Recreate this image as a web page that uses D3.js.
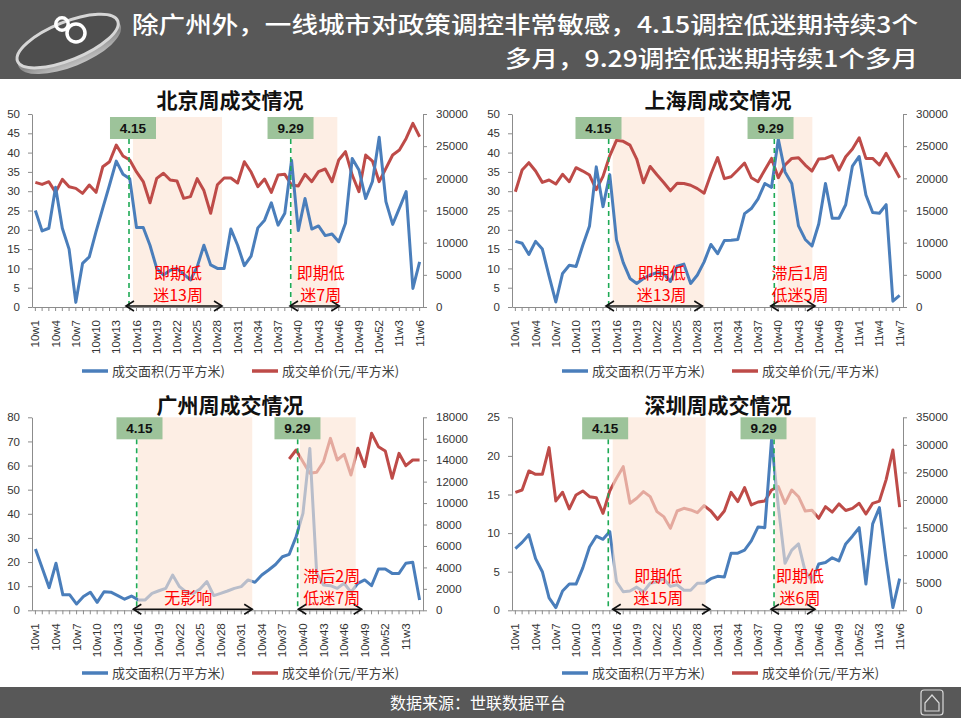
<!DOCTYPE html>
<html>
<head>
<meta charset="utf-8">
<script src="https://d3js.org/d3.v7.min.js"></script>
<style>
  body { margin: 0; background: #fff; }
  svg { display: block; }
</style>
</head>
<body>
<div id="chart"></div>
<script>
// ---- categories (weeks) ----
var weeks2010 = ["10w1","10w2","10w3","10w4","10w5","10w6","10w7","10w8","10w9","10w10",
  "10w11","10w12","10w13","10w14","10w15","10w16","10w17","10w18","10w19","10w20",
  "10w21","10w22","10w23","10w24","10w25","10w26","10w27","10w28","10w29","10w30",
  "10w31","10w32","10w33","10w34","10w35","10w36","10w37","10w38","10w39","10w40",
  "10w41","10w42","10w43","10w44","10w45","10w46","10w47","10w48","10w49","10w50",
  "10w51","10w52"];
var bjWeeks = weeks2010.concat(["11w1","11w2","11w3","11w4","11w5","11w6"]);
var shWeeks = weeks2010.slice(0, 51).concat(["11w1","11w2","11w3","11w4","11w5","11w6","11w7"]);
var gzWeeks = weeks2010.concat(["11w1","11w2","11w3","11w4","11w5"]);
var szWeeks = bjWeeks;

// ---- series values: 成交面积 (万平方米) and 成交单价 (元/平方米) ----
var bjArea = [25,19.7,20.4,31,20.4,15,1.2,11.3,13,19.5,25.6,31.6,37.8,34.4,33.2,20.6,20.6,16,10,8.3,
  9.5,10,8.5,7,10.4,16,10.9,10,10,20.2,16,10.7,13.2,20.5,22.5,27,21.2,24.3,38,19.8,
  28.1,20.2,21,18.5,18.9,16.9,21.7,38.5,35.5,28.1,32.5,44,27.3,21.4,25.6,29.9,4.8,11.7];
var bjPrice = [19370,19060,19480,17820,19840,18700,18440,17660,18960,17820,21800,22580,25170,23470,22840,21000,19500,16200,20000,20800,
  19740,19600,16890,17150,19950,18100,14560,19000,20050,20050,19270,22580,20980,18700,19890,17820,20510,20620,18960,18800,
  20620,19480,21030,21450,19480,22840,24140,20510,17920,23620,22690,19480,21550,23620,24400,26210,28540,26470];

var shArea = [17,16.5,13.6,17,15,8,1.3,8.7,10.8,10.5,16,21,36.3,26,34.3,17.4,11.5,7.4,6.1,7.4,
  8.3,8.9,8.7,6.6,10.6,11.1,6.1,8.3,11.7,16.2,13.8,17.2,17.3,17.5,24.2,25.5,28,32,31,43.5,
  35,32,21,17.5,15.8,21.5,32,23,23,26.5,36.5,39,29,24.5,24.3,26.5,1.5,3];
var shPrice = [17920,21290,22430,21130,19370,19740,19110,20620,19480,21650,21130,20510,18250,20300,23500,25900,25750,25170,23000,19300,
  21850,20560,19350,18060,19220,19200,18930,18400,17700,20640,23230,19950,20250,21290,22380,20100,19480,21290,23100,20100,
  22070,23100,23210,22070,21130,23000,23100,23520,21290,23360,24550,26310,23100,23100,22070,23880,22000,20100];

var gzArea = [25.4,17.4,9.4,19.5,6.4,6.4,2.6,5.7,7.5,3.3,7.7,7.5,6.1,4.6,5.9,4.3,4.3,7,8.1,9.1,
  14.6,9.8,7.5,7,8.8,11.9,6.1,7,8,9.1,9.8,12.6,11.6,14.6,16.7,19,22.2,23.2,30.5,40.2,
  67.1,15.3,10.5,10.2,9.1,11.2,7.5,11.2,12.6,10.2,17.1,17.1,15.3,15.3,19.5,19.9,4.3];
var gzPrice = [null,null,null,null,null,null,null,null,null,null,null,null,null,null,null,null,null,null,null,null,
  null,null,null,null,null,null,null,null,null,null,null,null,null,null,null,null,null,14110,14950,13860,
  12780,12870,13860,16040,14020,14550,12620,15110,13400,16510,15260,14860,12310,14640,13490,14020,14020];

var szArea = [8,8.8,9.8,6.7,5,1.6,0.35,2.5,3.4,3.4,5.5,8.2,9.6,9.2,10.2,3.7,2.4,2.5,3,2.4,
  3.5,3.7,4.1,3.1,3.3,2.6,2.6,3.5,3.5,4.1,4.4,4.3,7.4,7.4,7.8,9,10.8,10.7,22.1,13.5,
  6.1,7.8,8.6,5,3.9,6,6.2,6.8,6.4,8.6,9.6,10.7,3.4,11.2,13.3,6.5,0.35,4.1];
var szPrice = [21400,21820,25270,24660,24660,29500,19830,21400,18380,20920,21640,20610,20430,17590,21640,23940,26050,19400,20310,21520,
  20610,17890,16990,14870,18010,18500,18200,17710,18980,18010,16500,18010,21400,19710,22250,19100,19640,19820,21820,22420,
  19400,21810,20600,18000,18150,16680,18790,17800,19300,18100,18490,19400,17450,19400,19810,23700,29070,18700];

// ---- axis tick labels ----
var areaTicks50 = [0,5,10,15,20,25,30,35,40,45,50];
var priceTicks30k = [0,5000,10000,15000,20000,25000,30000];
var gzAreaTicks = [0,10,20,30,40,50,60,70,80];
var gzPriceTicks = [0,2000,4000,6000,8000,10000,12000,14000,16000,18000];
var szAreaTicks = [0,5,10,15,20,25];
var szPriceTicks = [0,5000,10000,15000,20000,25000,30000,35000];

// ---- texts ----
var headline = ["除广州外，一线城市对政策调控非常敏感，4.15调控低迷期持续3个", "多月，9.29调控低迷期持续1个多月"];
var legendNames = ["成交面积(万平方米)", "成交单价(元/平方米)"];
var sourceText = "数据来源：世联数据平台";

var blue = "#4a7ebb", red = "#be4b48";
var numFont = "'Liberation Sans', Arial, sans-serif";
var cjkFont = "'Noto Sans CJK SC', 'Noto Sans', sans-serif";

// panel layout; annotation positions are in category-index units
var panels = [
  {title: "北京周成交情况", cats: bjWeeks, area: bjArea, price: bjPrice, aTicks: areaTicks50, pTicks: priceTicks30k,
   x0: 32, x1: 423, y0: 114, y1: 307, boxTop: 117, over: false, titleX: 230, titleY: 100, legendY: 371,
   marks: [{label: "4.15", box: 14.48, line: 13.89, shade: [14.48, 27.69], arrow: [13.44, 27.69], textAt: 21.16, text: ["即期低", "迷13周"]},
           {label: "9.29", box: 37.85, line: 37.88, shade: [38.03, 44.79], arrow: [37.77, 45.09], textAt: 42.33, text: ["即期低", "迷7周"]}]},
  {title: "上海周成交情况", cats: shWeeks, area: shArea, price: shPrice, aTicks: areaTicks50, pTicks: priceTicks30k,
   x0: 512, x1: 903, y0: 114, y1: 307, boxTop: 117, over: false, titleX: 718, titleY: 100, legendY: 371,
   marks: [{label: "4.15", box: 12.33, line: 13.84, shade: [14.44, 28.03], arrow: [13.44, 27.73], textAt: 21.71, text: ["即期低", "迷13周"]},
           {label: "9.29", box: 37.85, line: 38.41, shade: [38.92, 44.05], arrow: [37.88, 44.45], textAt: 42.22, text: ["滞后1周", "低迷5周"]}]},
  {title: "广州周成交情况", cats: gzWeeks, area: gzArea, price: gzPrice, aTicks: gzAreaTicks, pTicks: gzPriceTicks,
   x0: 32, x1: 423, y0: 417.3, y1: 610.3, boxTop: 417.3, over: true, titleX: 230, titleY: 405, legendY: 673,
   marks: [{label: "4.15", box: 15.17, line: 14.76, shade: [14.95, 31.61], arrow: [14.27, 31.61], textAt: 22.29, text: ["无影响"]},
           {label: "9.29", box: 38.2, line: 38.23, shade: [38.57, 46.69], arrow: [38.32, 47.56], textAt: 43.19, text: ["滞后2周", "低迷7周"]}]},
  {title: "深圳周成交情况", cats: szWeeks, area: szArea, price: szPrice, aTicks: szAreaTicks, pTicks: szPriceTicks,
   x0: 512, x1: 903, y0: 417.3, y1: 610.3, boxTop: 417.3, over: true, titleX: 718, titleY: 405, legendY: 673,
   marks: [{label: "4.15", box: 13.32, line: 13.78, shade: [14.44, 28.23], arrow: [14.44, 28.87], textAt: 21.2, text: ["即期低", "迷15周"]},
           {label: "9.29", box: 36.81, line: 38.37, shade: [38.52, 44.55], arrow: [37.92, 44.45], textAt: 42.22, text: ["即期低", "迷6周"]}]}
];

var W = 961, H = 718;
var svg = d3.select("#chart").append("svg").attr("width", W).attr("height", H);

// ---- header band ----
var defs = svg.append("defs");
var glass = defs.append("linearGradient").attr("id", "glass").attr("x1", 0).attr("y1", 0).attr("x2", 0).attr("y2", 1);
glass.append("stop").attr("offset", "0%").attr("stop-color", "#e8e8e8");
glass.append("stop").attr("offset", "60%").attr("stop-color", "#8f8f8f");
glass.append("stop").attr("offset", "100%").attr("stop-color", "#cfcfcf");

svg.append("rect").attr("x", 0).attr("y", 0).attr("width", W).attr("height", 79).attr("fill", "#585858");

// glass ring logo with the "8" mark
var logo = svg.append("g").attr("transform", "rotate(-22,68,42)");
logo.append("ellipse").attr("cx", 68).attr("cy", 46).attr("rx", 55).attr("ry", 21)
    .attr("fill", "url(#glass)").attr("opacity", 0.9);
logo.append("ellipse").attr("cx", 68).attr("cy", 41).attr("rx", 54).attr("ry", 19)
    .attr("fill", "#4e4e4e").attr("stroke", "#d6d6d6").attr("stroke-width", 3);
svg.append("circle").attr("cx", 62).attr("cy", 24).attr("r", 6.2)
   .attr("fill", "none").attr("stroke", "#fff").attr("stroke-width", 3.5);
svg.append("circle").attr("cx", 76).attr("cy", 33).attr("r", 9)
   .attr("fill", "none").attr("stroke", "#fff").attr("stroke-width", 3.5);

svg.append("text").attr("x", 132).attr("y", 33).text(headline[0])
   .attr("fill", "#fff").attr("font-family", cjkFont).attr("font-size", 23).attr("font-weight", 500)
   .attr("textLength", 786).attr("lengthAdjust", "spacingAndGlyphs");
svg.append("text").attr("x", 918).attr("y", 67).attr("text-anchor", "end").text(headline[1])
   .attr("fill", "#fff").attr("font-family", cjkFont).attr("font-size", 23).attr("font-weight", 500)
   .attr("textLength", 413).attr("lengthAdjust", "spacingAndGlyphs");

// ---- footer band ----
svg.append("rect").attr("x", 0).attr("y", 687).attr("width", W).attr("height", H - 687).attr("fill", "#585858");
svg.append("text").attr("x", 478).attr("y", 703).attr("dy", "0.35em").attr("text-anchor", "middle")
   .text(sourceText).attr("fill", "#fff").attr("font-family", cjkFont).attr("font-size", 16);
svg.append("rect").attr("x", 921).attr("y", 690).attr("width", 22).attr("height", 25).attr("rx", 3)
   .attr("fill", "none").attr("stroke", "#d9d9d9").attr("stroke-width", 1.2);
svg.append("path").attr("d", "M925,703 L932,695 L939,703 L939,711 L925,711 Z")
   .attr("fill", "none").attr("stroke", "#d9d9d9").attr("stroke-width", 1.2);

// ---- draw one city panel ----
function drawPanel(p) {
  var g = svg.append("g");
  var x = d3.scaleBand().domain(p.cats).range([p.x0, p.x1]).padding(0);
  var bw = x.bandwidth();
  var idx = function (f) { return p.x0 + bw * (f + 0.5); };   // fractional category index -> px
  var yL = d3.scaleLinear().domain([0, d3.max(p.aTicks)]).range([p.y1, p.y0]);
  var yR = d3.scaleLinear().domain([0, d3.max(p.pTicks)]).range([p.y1, p.y0]);

  var lineArea = d3.line().defined(function (d) { return d != null; })
      .x(function (d, i) { return x(p.cats[i]) + bw / 2; }).y(function (d) { return yL(d); });
  var linePrice = d3.line().defined(function (d) { return d != null; })
      .x(function (d, i) { return x(p.cats[i]) + bw / 2; }).y(function (d) { return yR(d); });

  function shades() {
    g.selectAll(null).data(p.marks).enter().append("rect")
     .attr("x", function (m) { return idx(m.shade[0]); })
     .attr("y", p.boxTop)
     .attr("width", function (m) { return idx(m.shade[1]) - idx(m.shade[0]); })
     .attr("height", p.y1 - p.boxTop)
     .attr("fill", "#fbe3d3").attr("opacity", 0.62);
  }
  function lines() {
    g.append("path").datum(p.price).attr("d", linePrice)
     .attr("fill", "none").attr("stroke", red).attr("stroke-width", 3).attr("stroke-linejoin", "round");
    g.append("path").datum(p.area).attr("d", lineArea)
     .attr("fill", "none").attr("stroke", blue).attr("stroke-width", 3).attr("stroke-linejoin", "round");
  }
  if (p.over) { lines(); shades(); } else { shades(); lines(); }

  // dashed policy lines
  g.selectAll(null).data(p.marks).enter().append("line")
   .attr("x1", function (m) { return idx(m.line); }).attr("x2", function (m) { return idx(m.line); })
   .attr("y1", p.boxTop + 22).attr("y2", p.y1)
   .attr("stroke", "#1faa55").attr("stroke-width", 1.6).attr("stroke-dasharray", "5,4");

  // green date boxes
  g.selectAll(null).data(p.marks).enter().append("rect")
   .attr("x", function (m) { return idx(m.box) - 23; }).attr("y", p.boxTop)
   .attr("width", 46).attr("height", 22).attr("fill", "#9dc39a");
  g.selectAll(null).data(p.marks).enter().append("text")
   .attr("x", function (m) { return idx(m.box); }).attr("y", p.boxTop + 11).attr("dy", "0.36em")
   .attr("text-anchor", "middle").attr("font-family", numFont).attr("font-weight", "bold")
   .attr("font-size", 13.5).attr("fill", "#111").text(function (m) { return m.label; });

  // axes
  var axL = g.append("g").attr("transform", "translate(" + p.x0 + ",0)")
     .call(d3.axisLeft(yL).tickValues(p.aTicks).tickSize(4).tickSizeOuter(0).tickPadding(8));
  var axR = g.append("g").attr("transform", "translate(" + p.x1 + ",0)")
     .call(d3.axisRight(yR).tickValues(p.pTicks).tickFormat(d3.format("d"))
       .tickSize(4).tickSizeOuter(0).tickPadding(9));
  var axB = g.append("g").attr("transform", "translate(0," + p.y1 + ")")
     .call(d3.axisBottom(x).tickSize(4).tickSizeOuter(0)
       .tickFormat(function (d, i) { return i % 3 === 0 ? d : ""; }));
  axB.selectAll("text")
     .attr("transform", "rotate(-90)").attr("text-anchor", "end")
     .attr("x", -13).attr("y", 0).attr("dy", "0.35em");
  [axL, axR, axB].forEach(function (a) {
    a.select(".domain").attr("stroke", "#8c8c8c");
    a.selectAll(".tick line").attr("stroke", "#8c8c8c");
    a.selectAll("text").attr("fill", "#333").attr("font-family", numFont).attr("font-size", 11.5);
  });

  // double-headed arrows
  var ay = p.y1 - 1;
  p.marks.forEach(function (m) {
    var a = idx(m.arrow[0]), b = idx(m.arrow[1]);
    g.append("line").attr("x1", a).attr("x2", b).attr("y1", ay).attr("y2", ay)
     .attr("stroke", "#111").attr("stroke-width", 1.6);
    g.append("path").attr("d", "M" + (a + 8) + "," + (ay - 5) + " L" + a + "," + ay + " L" + (a + 8) + "," + (ay + 5))
     .attr("fill", "none").attr("stroke", "#111").attr("stroke-width", 1.6);
    g.append("path").attr("d", "M" + (b - 8) + "," + (ay - 5) + " L" + b + "," + ay + " L" + (b - 8) + "," + (ay + 5))
     .attr("fill", "none").attr("stroke", "#111").attr("stroke-width", 1.6);
  });

  // red notes
  p.marks.forEach(function (m) {
    var n = m.text.length;
    m.text.forEach(function (t, k) {
      g.append("text").attr("x", idx(m.textAt)).attr("y", p.y1 - 12 - (n - 1 - k) * 22).attr("dy", "0.36em")
       .attr("text-anchor", "middle").attr("font-family", cjkFont).attr("font-size", 16)
       .attr("fill", "#ff0000").text(t);
    });
  });

  // title
  g.append("text").attr("x", p.titleX).attr("y", p.titleY).attr("dy", "0.36em")
   .attr("text-anchor", "middle").attr("font-family", cjkFont).attr("font-weight", "bold")
   .attr("font-size", 21).attr("fill", "#111").text(p.title);

  // legend
  var lx = p.x0;
  [[blue, 50, 80, 113], [red, 220, 250, 117]].forEach(function (e, k) {
    g.append("line").attr("x1", lx + e[1]).attr("x2", lx + e[1] + 26)
     .attr("y1", p.legendY).attr("y2", p.legendY).attr("stroke", e[0]).attr("stroke-width", 3.5);
    g.append("text").attr("x", lx + e[2]).attr("y", p.legendY).attr("dy", "0.36em")
     .attr("font-family", cjkFont).attr("font-size", 13).attr("fill", "#404040")
     .attr("textLength", e[3]).attr("lengthAdjust", "spacingAndGlyphs").text(legendNames[k]);
  });
}

panels.forEach(drawPanel);
</script>
</body>
</html>
